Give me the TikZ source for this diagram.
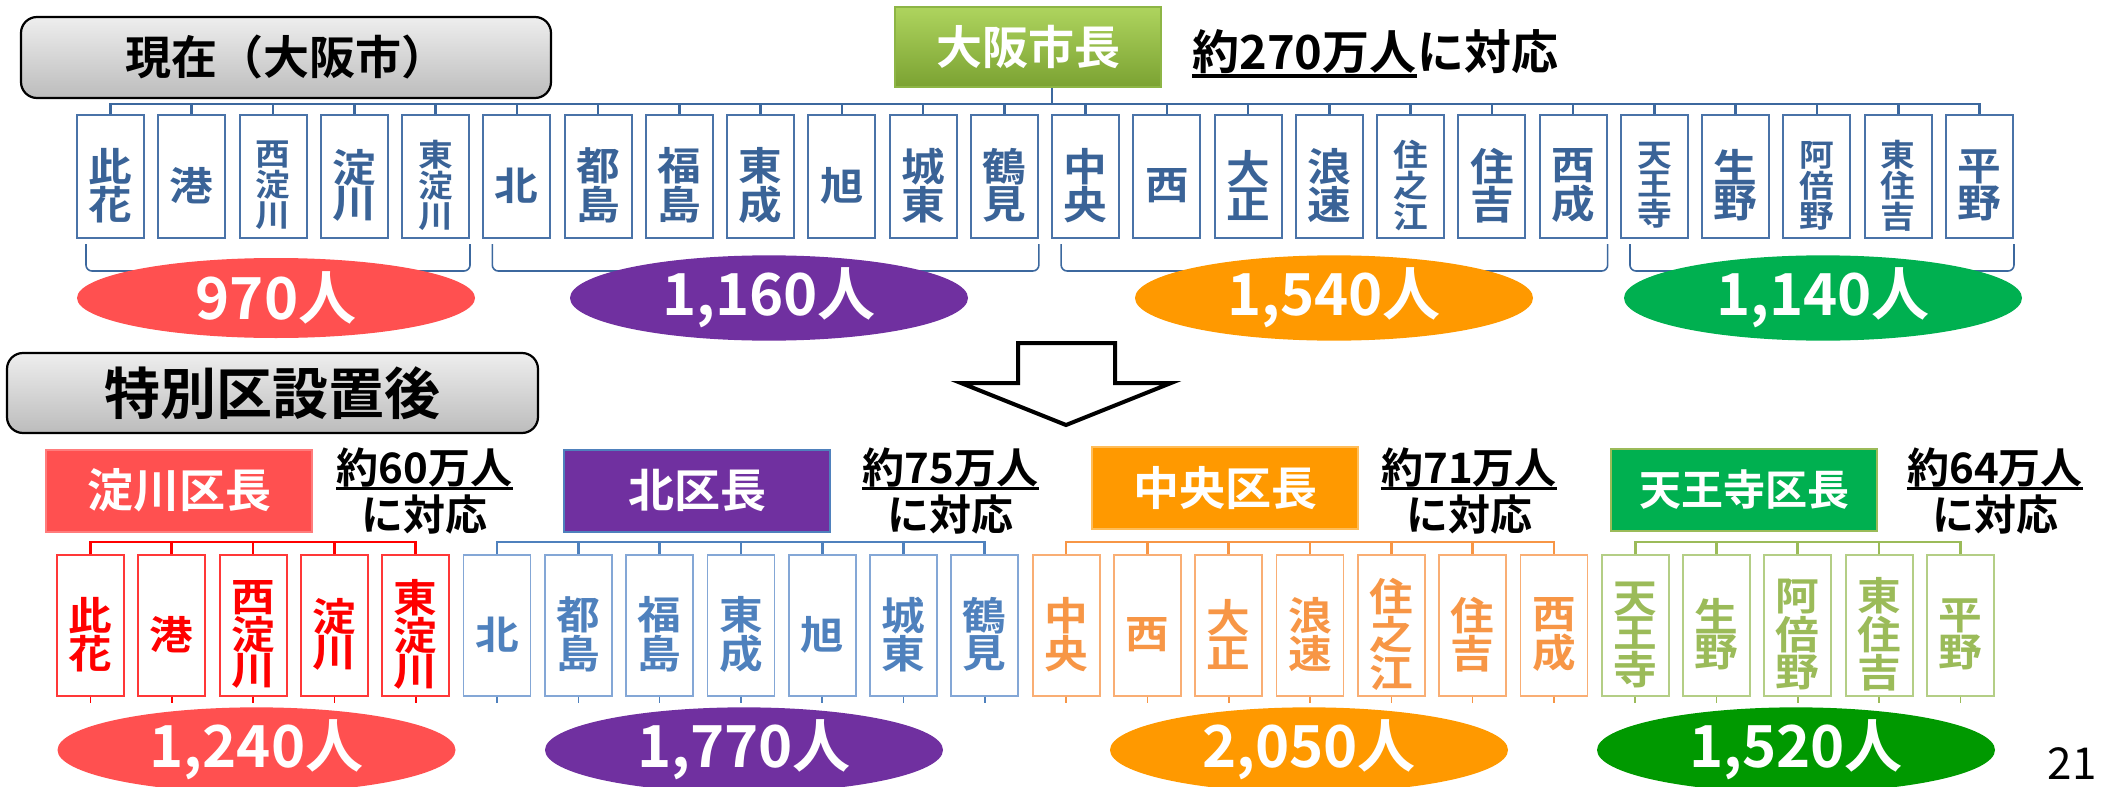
\documentclass[tikz,border=0pt]{standalone}
\usepackage{fontspec}
\setmainfont{Noto Sans CJK JP}[BoldFont={Noto Sans CJK JP Bold}]
\newfontfamily\bxf{Noto Sans CJK JP Bold}[FakeStretch=1.12]
\usetikzlibrary{shapes.geometric}
\definecolor{tbText}{HTML}{3A6397}
\definecolor{tbBorder}{HTML}{4A73A8}
\definecolor{tbLine}{HTML}{3C689E}
\definecolor{cRed}{HTML}{FF0000}
\definecolor{cRedB}{HTML}{FF3838}
\definecolor{cBlue}{HTML}{4F81BD}
\definecolor{cBlueB}{HTML}{84A7D6}
\definecolor{cOr}{HTML}{F79646}
\definecolor{cOrB}{HTML}{F9AE74}
\definecolor{cGr}{HTML}{9BBB59}
\definecolor{cGrB}{HTML}{B4CE86}
\definecolor{fRed}{HTML}{FF5050}
\definecolor{fPur}{HTML}{7030A0}
\definecolor{fOr}{HTML}{FF9900}
\definecolor{fGr}{HTML}{00B050}
\definecolor{fGrD}{HTML}{009900}
\definecolor{mayTop}{HTML}{AED45E}
\definecolor{mayBot}{HTML}{7BA232}
\definecolor{mayB}{HTML}{8DB545}
\definecolor{gTop}{HTML}{EEEEEE}
\definecolor{gBot}{HTML}{BCBCBC}
\begin{document}
\begin{tikzpicture}[x=0.5pt,y=-0.5pt,
  tbox/.style={draw=tbBorder, line width=1pt, fill=white, minimum width=33.5pt, minimum height=61.5pt, inner sep=0},
  bbox/.style={line width=0.9pt, fill=white, minimum width=33.5pt, minimum height=70.5pt, inner sep=0},
  btext/.style={inner sep=0, align=center},
  tline/.style={draw=tbLine, line width=1.3pt},
  brk/.style={draw=tbLine, line width=0.8pt, rounded corners=3pt},
  gbox/.style={draw=black, line width=1.1pt, rounded corners=8pt, top color=gTop, bottom color=gBot, inner sep=0},
  hbox/.style={minimum width=133pt, minimum height=41pt, inner sep=0, text=white, line width=1pt, font=\bfseries\fontsize{23}{23}\selectfont},
  ell/.style={ellipse, minimum width=199pt, minimum height=40pt, inner sep=0, text=white, font=\bfseries\fontsize{29}{29}\selectfont},
  lbl/.style={inner sep=0, anchor=base, font=\bfseries\fontsize{21}{21}\selectfont},
  ul/.style={draw=black, line width=1.6pt},
  grpline/.style={line width=1.35pt}
]
\useasboundingbox (0,0) rectangle (2105,787);

% ---------- titles ----------
\node[gbox, minimum width=265pt, minimum height=40.5pt, font=\bfseries\fontsize{23}{23}\selectfont] (now) at (286,57.5) {現在（大阪市）};
\node[gbox, minimum width=265.5pt, minimum height=40pt, font=\bfseries\fontsize{28}{28}\selectfont] (after) at (272.5,393) {特別区設置後};

% ---------- mayor ----------
\node[top color=mayTop, bottom color=mayBot, draw=mayB, line width=1pt, minimum width=133pt, minimum height=40pt, inner sep=0, text=white, font=\bfseries\fontsize{23}{23}\selectfont] (mayor) at (1028,47) {大阪市長};
\node[lbl, anchor=base west, font=\bfseries\fontsize{23.5}{23.5}\selectfont] (pop) at (1192,69.5) {約270万人};
\node[lbl, anchor=base west, font=\bfseries\fontsize{23.5}{23.5}\selectfont] (pop2) at (pop.base east) {に対応};
\draw[ul] ([yshift=-3.2pt]pop.base west) -- ([yshift=-3.2pt]pop.base east);

% ---------- top row boxes ----------
\foreach \i/\nm/\fz/\lz in {0/{此\\花}/19.5/17.5, 1/港/19.5/17.5, 2/{西\\淀\\川}/15.5/13.2, 3/{淀\\川}/19.5/17.5, 4/{東\\淀\\川}/15.5/13.2, 5/北/19.5/17.5, 6/{都\\島}/19.5/17.5, 7/{福\\島}/19.5/17.5, 8/{東\\成}/19.5/17.5, 9/旭/19.5/17.5, 10/{城\\東}/19.5/17.5, 11/{鶴\\見}/19.5/17.5, 12/{中\\央}/19.5/17.5, 13/西/19.5/17.5, 14/{大\\正}/19.5/17.5, 15/{浪\\速}/19.5/17.5, 16/{住\\之\\江}/15.5/13.2, 17/{住\\吉}/19.5/17.5, 18/{西\\成}/19.5/17.5, 19/{天\\王\\寺}/15.5/13.2, 20/{生\\野}/19.5/17.5, 21/{阿\\倍\\野}/15.5/13.2, 22/{東\\住\\吉}/15.5/13.2, 23/{平\\野}/19.5/17.5}
{
  \node[tbox] (tb\i) at (110.5+81.26*\i,176.5) {};
  \node[btext, text=tbText, font=\bxf\fontsize{\fz}{\lz}\selectfont] (tt\i) at ([yshift=-4.5pt]tb\i.center) {\nm};
}
\coordinate (tbus) at (0,104);
\draw[tline] (tb0.north) |- (tbus -| tb23.north) -- (tb23.north);
\foreach \i in {1,...,22} { \draw[tline] (tb\i.north) -- (tb\i.north |- tbus); }
\draw[tline] ([xshift=12pt]mayor.south) -- ([xshift=12pt]mayor.south |- tbus);

% brackets under groups
\foreach \a/\b in {0/4, 5/11, 12/18, 19/23}
  \draw[brk] ([xshift=5pt,yshift=-2.5pt]tb\a.south west) -- ++(0,27) -| ([yshift=-2.5pt]tb\b.south east);

% top ellipses
\node[ell, fill=fRed] (e1) at (276,298) {970人};
\node[ell, fill=fPur] (e2) at (769,298) {1,160人};
\node[ell, fill=fOr] (e3) at (1334,298) {1,540人};
\node[ell, fill=fGr] (e4) at (1823,298) {1,140人};

% ---------- arrow ----------
\draw[line width=2pt, miter limit=10, fill=white] (1018,343) -- (1115,343) -- (1115,383) -- (1171,383) -- (1066,425) -- (961,383) -- (1018,383) -- cycle;

% ---------- ward heads ----------
\node[hbox, fill=fRed, draw=fRed!75!white] (hYodo) at (179,490.5) {淀川区長};
\node[hbox, fill=fPur, draw=cBlue] (hKita) at (697,490.5) {北区長};
\node[hbox, fill=fOr, draw=fOr!65!white] (hChuo) at (1225,488) {中央区長};
\node[hbox, fill=fGr, draw=cGr, font=\bfseries\fontsize{21}{21}\selectfont] (hTen) at (1744,490) {天王寺区長};

\foreach \n/\x/\num in {1/424.5/60, 2/950.5/75, 3/1469/71, 4/1995/64} {
  \node[lbl] (p\n a) at (\x,483) {約\num 万人};
  \node[lbl] (p\n b) at (\x,530) {に対応};
  \draw[ul] ([yshift=-2.8pt]p\n a.base west) -- ([yshift=-2.8pt]p\n a.base east);
}

% ---------- bottom row boxes ----------
\foreach \i/\nm/\ct/\cb in {0/{此\\花}/cRed/cRedB, 1/港/cRed/cRedB, 2/{西\\淀\\川}/cRed/cRedB, 3/{淀\\川}/cRed/cRedB, 4/{東\\淀\\川}/cRed/cRedB,
  5/北/cBlue/cBlueB, 6/{都\\島}/cBlue/cBlueB, 7/{福\\島}/cBlue/cBlueB, 8/{東\\成}/cBlue/cBlueB, 9/旭/cBlue/cBlueB, 10/{城\\東}/cBlue/cBlueB, 11/{鶴\\見}/cBlue/cBlueB,
  12/{中\\央}/cOr/cOrB, 13/西/cOr/cOrB, 14/{大\\正}/cOr/cOrB, 15/{浪\\速}/cOr/cOrB, 16/{住\\之\\江}/cOr/cOrB, 17/{住\\吉}/cOr/cOrB, 18/{西\\成}/cOr/cOrB,
  19/{天\\王\\寺}/cGr/cGrB, 20/{生\\野}/cGr/cGrB, 21/{阿\\倍\\野}/cGr/cGrB, 22/{東\\住\\吉}/cGr/cGrB, 23/{平\\野}/cGr/cGrB}
{
  \node[bbox, draw=\cb] (bb\i) at (90.5+81.3*\i,625.5) {};
  \node[btext, text=\ct, font=\bxf\fontsize{19.5}{17.5}\selectfont] (bt\i) at ([yshift=-4.5pt]bb\i.center) {\nm};
  \draw[draw=\ct, line width=0.8pt] (bb\i.south) -- ++(0,6);
}
\coordinate (bbus) at (0,542);
\foreach \a/\b/\c in {0/4/cRed, 5/11/cBlue, 12/18/cOr, 19/23/cGr} {
  \draw[grpline, draw=\c] (bb\a.north) |- (bbus -| bb\b.north) -- (bb\b.north);
}
\foreach \i/\c in {1/cRed,2/cRed,3/cRed,6/cBlue,7/cBlue,8/cBlue,9/cBlue,10/cBlue,13/cOr,14/cOr,15/cOr,16/cOr,17/cOr,20/cGr,21/cGr,22/cGr}
  \draw[grpline, draw=\c] (bb\i.north) -- (bb\i.north |- bbus);

% bottom ellipses
\node[ell, fill=fRed] (f1) at (256.5,750) {1,240人};
\node[ell, fill=fPur] (f2) at (744,750) {1,770人};
\node[ell, fill=fOr] (f3) at (1309,750) {2,050人};
\node[ell, fill=fGrD] (f4) at (1796,750) {1,520人};

\node[inner sep=0, anchor=base, font=\fontsize{22}{22}\selectfont] (pg) at (2072,779) {21};
\end{tikzpicture}
\end{document}
